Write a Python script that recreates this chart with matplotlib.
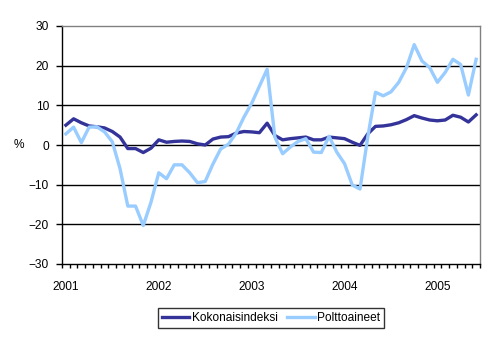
import matplotlib
matplotlib.use("Agg")
import matplotlib.pyplot as plt
import numpy as np

plt.rcParams['font.family'] = ['Liberation Sans', 'DejaVu Sans']

years = ["2001", "2002", "2003", "2004", "2005"]
months_count = 54  # Jan 2001 .. Jun 2005
kokonaisindeksi = [5.0, 6.6, 5.6, 4.8, 4.6, 4.3, 3.4, 2.0, -0.9, -0.9, -1.9, -0.8, 1.3, 0.7,
                   0.9, 1.0, 0.9, 0.3, 0.0, 1.5, 2.0, 2.1, 3.0, 3.4, 3.3, 3.1, 5.5, 2.4,
                   1.3, 1.6, 1.8, 2.0, 1.3, 1.3, 2.0, 1.8, 1.6, 0.7, -0.1, 2.8,
                   4.7, 4.8, 5.1, 5.6, 6.4, 7.4, 6.8, 6.3, 6.1, 6.3, 7.5, 7.0, 5.8, 7.6]
polttoaineet = [2.8, 4.5, 0.6, 4.5, 4.6, 3.3, 0.8, -6.0, -15.4, -15.4, -20.3, -14.4, -7.0, -8.5,
                -5.0, -5.0, -7.0, -9.5, -9.2, -4.8, -1.0, 0.2, 3.0, 7.0, 10.5, 14.8, 19.1, 2.0,
                -2.2, -0.5, 0.9, 1.6, -1.8, -1.9, 2.2, -1.8, -4.7, -10.1, -11.1, 2.0,
                13.3, 12.4, 13.4, 15.8, 19.5, 25.3, 21.2, 19.5, 15.8, 18.3, 21.6, 20.3, 12.6, 21.6]

fig = plt.figure(figsize=(4.95, 3.38), dpi=100)
ax = fig.add_axes([62/495, 1 - 264/338, (480 - 62)/495, (264 - 26)/338])

x = np.arange(months_count)
ax.plot(x, kokonaisindeksi, color='#333399', lw=2.4, label='Kokonaisindeksi', zorder=3)
ax.plot(x, polttoaineet, color='#99CCFF', lw=2.4, label='Polttoaineet', zorder=3)

ax.set_xlim(-0.5, months_count - 0.5)
ax.set_ylim(-30, 30)

# grid lines
for yv in [-20, -10, 0, 10, 20]:
    ax.axhline(yv, color='black', lw=1.0, zorder=1)

fs = 8.6
ax.set_yticks(np.arange(-30, 31, 10))
ax.tick_params(axis='y', direction='out', length=4, width=1, labelsize=fs, pad=5.5)

ax.set_xticks([i * 12 for i in range(len(years))])
ax.set_xticklabels(years)
ax.set_xticks(np.arange(-0.5, months_count, 1), minor=True)
ax.tick_params(axis='x', which='major', length=0, labelsize=fs, pad=12)
ax.tick_params(axis='x', which='minor', direction='out', length=3, width=1)

for s in ['top', 'right']:
    ax.spines[s].set_color('#808080')
    ax.spines[s].set_linewidth(1)
for s in ['left', 'bottom']:
    ax.spines[s].set_color('black')
    ax.spines[s].set_linewidth(1)

ax.set_ylabel('%', rotation=0, fontsize=fs, labelpad=3, va='center', ha='right')

leg = fig.legend(loc='center', bbox_to_anchor=(271/495, 1 - 318/338), ncol=2,
                 frameon=True, fancybox=False, edgecolor='black', fontsize=fs,
                 handlelength=2.3, handletextpad=0.2, columnspacing=0.8,
                 borderpad=0.35, borderaxespad=0)
leg.get_frame().set_linewidth(1)

fig.savefig('out.png', dpi=100, facecolor='white')
